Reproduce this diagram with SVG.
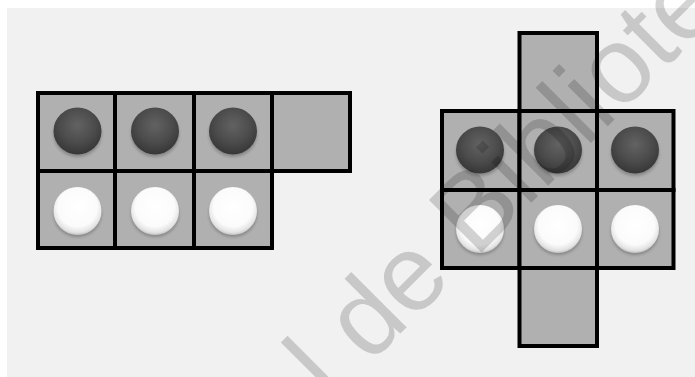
<svg xmlns="http://www.w3.org/2000/svg" width="695" height="377" viewBox="0 0 695 377">
<defs>
<style>
.cell{fill:#b0b0b0;stroke:#000;stroke-width:4}
.dark{fill:url(#gDark)}
.white{fill:url(#gWhite)}
.shadow{fill:#555;opacity:0.45;filter:url(#blur)}
.wm{font-family:"Liberation Sans",Arial,sans-serif;font-size:108px;fill:#000;fill-opacity:0.17}
</style>
<radialGradient id="gDark" cx="0.5" cy="0.38" r="0.6">
<stop offset="0" stop-color="#626262"/>
<stop offset="0.6" stop-color="#4c4c4c"/>
<stop offset="1" stop-color="#383838"/>
</radialGradient>
<radialGradient id="gWhite" cx="0.5" cy="0.42" r="0.58">
<stop offset="0" stop-color="#ffffff"/>
<stop offset="0.7" stop-color="#fbfbfb"/>
<stop offset="0.9" stop-color="#e4e4e4"/>
<stop offset="1" stop-color="#c4c4c4"/>
</radialGradient>
<filter id="blur" x="-30%" y="-30%" width="160%" height="160%"><feGaussianBlur stdDeviation="1.5"/></filter>
<g id="stoneD"><ellipse class="shadow" cx="0" cy="3" rx="24" ry="23"/><ellipse class="dark" cx="0" cy="0" rx="24" ry="23.5"/></g>
<g id="stoneW"><ellipse class="shadow" cx="0" cy="3" rx="24" ry="23"/><ellipse class="white" cx="0" cy="0" rx="24" ry="24"/></g>
</defs>
<rect x="0" y="0" width="695" height="377" fill="#ffffff"/>
<rect x="7" y="8" width="688" height="369" fill="#f1f1f1"/>

<g id="left-board">
<g id="L-a1"><rect class="cell" x="38" y="93" width="77" height="78"/><use href="#stoneD" x="77.5" y="131"/></g>
<g id="L-a2"><rect class="cell" x="115" y="93" width="79" height="78"/><use href="#stoneD" x="155" y="131"/></g>
<g id="L-a3"><rect class="cell" x="194" y="93" width="78" height="78"/><use href="#stoneD" x="233" y="131"/></g>
<g id="L-a4"><rect class="cell" x="272" y="93" width="78" height="78"/></g>
<g id="L-b1"><rect class="cell" x="38" y="171" width="77" height="77"/><use href="#stoneW" x="77.5" y="211"/></g>
<g id="L-b2"><rect class="cell" x="115" y="171" width="79" height="77"/><use href="#stoneW" x="155" y="211"/></g>
<g id="L-b3"><rect class="cell" x="194" y="171" width="78" height="77"/><use href="#stoneW" x="233" y="211"/></g>
</g>

<g id="right-board">
<g id="R-top"><rect class="cell" x="519.5" y="33" width="77.5" height="78"/></g>
<g id="R-a1"><rect class="cell" x="442" y="111" width="77.5" height="79"/><use href="#stoneD" x="480" y="150"/></g>
<g id="R-a2"><rect class="cell" x="519.5" y="111" width="77.5" height="79"/><use href="#stoneD" x="558" y="150"/></g>
<g id="R-a3"><rect class="cell" x="597" y="111" width="76.5" height="79"/><use href="#stoneD" x="635" y="150"/></g>
<g id="R-b1"><rect class="cell" x="442" y="190" width="77.5" height="78"/><use href="#stoneW" x="480" y="229"/></g>
<g id="R-b2"><rect class="cell" x="519.5" y="190" width="77.5" height="78"/><use href="#stoneW" x="558" y="229"/></g>
<g id="R-b3"><rect class="cell" x="597" y="190" width="76.5" height="78"/><use href="#stoneW" x="635" y="229"/></g>
<g id="R-bottom"><rect class="cell" x="519.5" y="268" width="77.5" height="78"/></g>
</g>

<g id="connectors"></g>

<text class="wm" transform="translate(331,403) rotate(-45)" x="0" y="0">l de Bibliote</text>
</svg>
